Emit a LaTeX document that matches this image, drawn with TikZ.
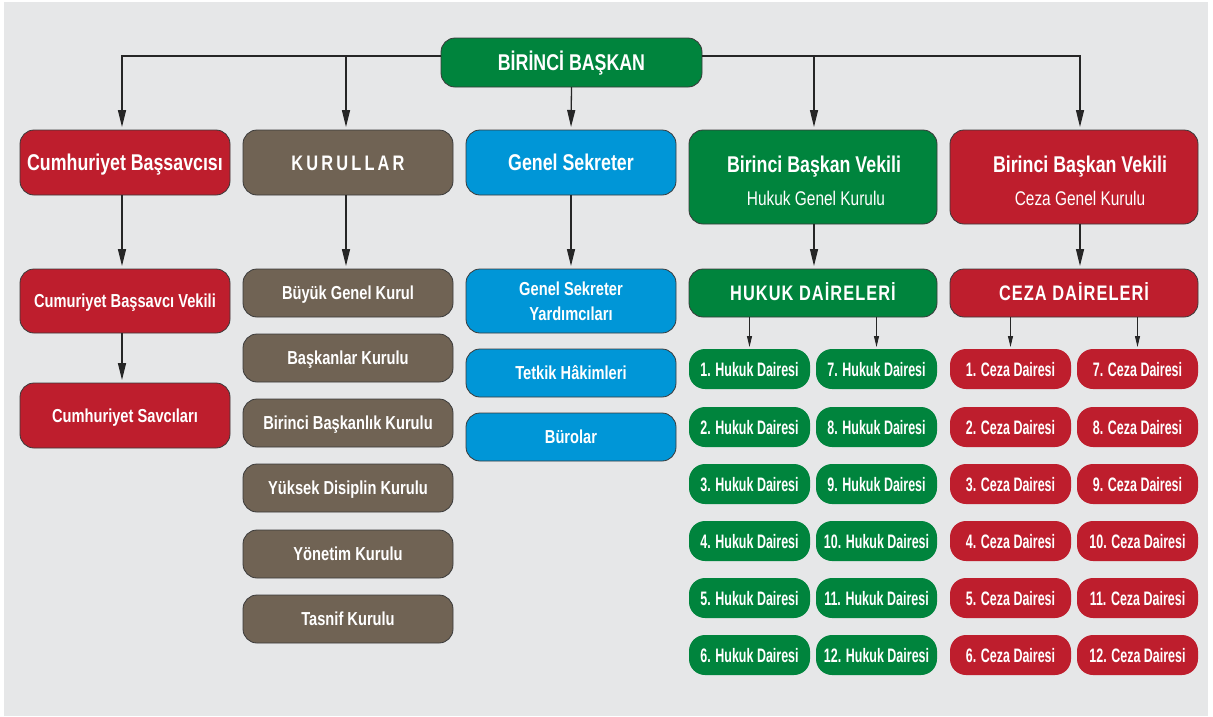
\documentclass[tikz,border=0pt]{standalone}
\usepackage{fontspec}
\setmainfont{Liberation Sans}
\newfontfamily\fa[FakeStretch=0.78]{Liberation Sans}
\newfontfamily\fs[FakeStretch=0.64]{Liberation Sans}
\newfontfamily\fk[FakeStretch=0.78,LetterSpace=15]{Liberation Sans}
\newfontfamily\fd[FakeStretch=0.78,LetterSpace=5]{Liberation Sans}
\usetikzlibrary{arrows.meta}
\definecolor{bg}{HTML}{E6E7E8}
\definecolor{grn}{HTML}{00843D}
\definecolor{rd}{HTML}{BE1E2D}
\definecolor{brn}{HTML}{706354}
\definecolor{blu}{HTML}{0096D7}
\definecolor{bord}{HTML}{3A3A3A}
\tikzset{
  box/.style={draw=bord, line width=0.8pt, rounded corners=14pt, text=white, align=center, inner sep=0pt, outer sep=0pt},
  title/.style={box, font=\fa\bfseries\fontsize{22.8}{26}\selectfont, text height=16.3pt, text depth=0pt},
  sub/.style={box, font=\fa\bfseries\fontsize{18.8}{25}\selectfont, text height=13.5pt, text depth=0pt},
  dair/.style={box, font=\fd\bfseries\fontsize{21}{24}\selectfont, text height=15pt, text depth=0pt},
  small/.style={rounded corners=16pt, minimum width=121pt, minimum height=40pt, text=white, inner sep=0pt, outer sep=0pt,
    font=\fs\bfseries\fontsize{19.5}{22}\selectfont, text height=14pt, text depth=0pt},
  tt/.style={anchor=base, text=white, inner sep=0pt, font=\fa\bfseries\fontsize{22.8}{26}\selectfont},
  rt/.style={anchor=base, text=white, inner sep=0pt, font=\fa\fontsize{19.8}{22}\selectfont},
  arr/.style={-{Triangle[length=17pt,width=8pt]}, line width=1.3pt, draw=black!85, shorten >=3pt},
  sarr/.style={-{Triangle[length=11pt,width=5pt]}, line width=0.9pt, draw=black!85, shorten >=2pt},
}
\begin{document}
\begin{tikzpicture}[x=1pt,y=-1pt]
\useasboundingbox (0,0) rectangle (1213,716);
\fill[white] (0,0) rectangle (1213,716);
\fill[bg] (4,2) rectangle (1208,716);

% top
\node[title, fill=grn, minimum width=261pt, minimum height=49pt] (top) at (571.5,62.5) {BİRİNCİ BAŞKAN};

% row 1
\node[title, fill=rd, minimum width=210pt, minimum height=65pt] (csb) at (125,162.5) {Cumhuriyet Başsavcısı};
\node[box, fill=brn, minimum width=210pt, minimum height=65pt, font=\fk\bfseries\fontsize{21}{24}\selectfont, text height=15pt, text depth=0pt] (kur) at (348,162.5) {KURULLAR};
\node[title, fill=blu, minimum width=210pt, minimum height=65pt] (gs) at (571,162.5) {Genel Sekreter};
\node[box, fill=grn, minimum width=248pt, minimum height=94pt] (bbvh) at (813,177) {};
\node[tt] (bbvht) at (814,172) {Birinci Başkan Vekili};
\node[rt] (bbvhs) at (816,205) {Hukuk Genel Kurulu};
\node[box, fill=rd, minimum width=248pt, minimum height=94pt] (bbvc) at (1074,177) {};
\node[tt] (bbvct) at (1080,172) {Birinci Başkan Vekili};
\node[rt] (bbvcs) at (1080,205) {Ceza Genel Kurulu};

% left column
\node[sub, fill=rd, minimum width=210pt, minimum height=64pt] (csv) at (125,301) {Cumuriyet Başsavcı Vekili};
\node[sub, fill=rd, minimum width=210pt, minimum height=65pt] (cs) at (125,415.5) {Cumhuriyet Savcıları};

% kurullar
\node[sub, fill=brn, minimum width=210pt, minimum height=48pt] (k1) at (348,293) {Büyük Genel Kurul};
\node[sub, fill=brn, minimum width=210pt, minimum height=48pt] (k2) at (348,358) {Başkanlar Kurulu};
\node[sub, fill=brn, minimum width=210pt, minimum height=48pt] (k3) at (348,423) {Birinci Başkanlık Kurulu};
\node[sub, fill=brn, minimum width=210pt, minimum height=48pt] (k4) at (348,488) {Yüksek Disiplin Kurulu};
\node[sub, fill=brn, minimum width=210pt, minimum height=48pt] (k5) at (348,554) {Yönetim Kurulu};
\node[sub, fill=brn, minimum width=210pt, minimum height=48pt] (k6) at (348,619) {Tasnif Kurulu};

% genel sekreter
\node[box, fill=blu, minimum width=210pt, minimum height=64pt, font=\fa\bfseries\fontsize{18.8}{25}\selectfont, text depth=0pt] (gsy) at (571,301) {Genel Sekreter\\Yardımcıları};
\node[sub, fill=blu, minimum width=210pt, minimum height=48pt] (tet) at (571,373) {Tetkik Hâkimleri};
\node[sub, fill=blu, minimum width=210pt, minimum height=48pt] (bur) at (571,437) {Bürolar};

% daireler
\node[dair, fill=grn, minimum width=248pt, minimum height=48pt] (hd) at (813,293) {HUKUK DAİRELERİ};
\node[dair, fill=rd, minimum width=248pt, minimum height=48pt] (cd) at (1074,293) {CEZA DAİRELERİ};

\foreach \i/\j/\r in {1/7/369,2/8/427,3/9/484,4/10/541,5/11/598,6/12/655}{
  \node[small, fill=grn] (h\i) at (749.5,\r) {\i. Hukuk Dairesi};
  \node[small, fill=grn] (h\j) at (876.5,\r) {\j. Hukuk Dairesi};
  \node[small, fill=rd] (c\i) at (1010.5,\r) {\i. Ceza Dairesi};
  \node[small, fill=rd] (c\j) at (1137.5,\r) {\j. Ceza Dairesi};
}

% connectors
\draw[arr] ([yshift=6.5pt]top.west) -| ([xshift=-3pt]csb.north);
\draw[arr] ([yshift=6.5pt]top.west) -| ([xshift=-2pt]kur.north);
\draw[arr] ([yshift=6.5pt]top.east) -| ([xshift=1pt]bbvh.north);
\draw[arr] ([yshift=6.5pt]top.east) -| ([xshift=6pt]bbvc.north);
\draw[arr] (top.south) -- (gs.north);
\draw[arr] ([xshift=-3pt]csb.south) -- ([xshift=-3pt]csv.north);
\draw[arr] ([xshift=-3pt]csv.south) -- ([xshift=-3pt]cs.north);
\draw[arr] ([xshift=-2pt]kur.south) -- ([xshift=-2pt]k1.north);
\draw[arr] (gs.south) -- (gsy.north);
\draw[arr] ([xshift=1pt]bbvh.south) -- ([xshift=1pt]hd.north);
\draw[arr] ([xshift=6pt]bbvc.south) -- ([xshift=6pt]cd.north);
\draw[sarr] (hd.south -| h1.north) -- (h1.north);
\draw[sarr] (hd.south -| h7.north) -- (h7.north);
\draw[sarr] (cd.south -| c1.north) -- (c1.north);
\draw[sarr] (cd.south -| c7.north) -- (c7.north);
\end{tikzpicture}
\end{document}
